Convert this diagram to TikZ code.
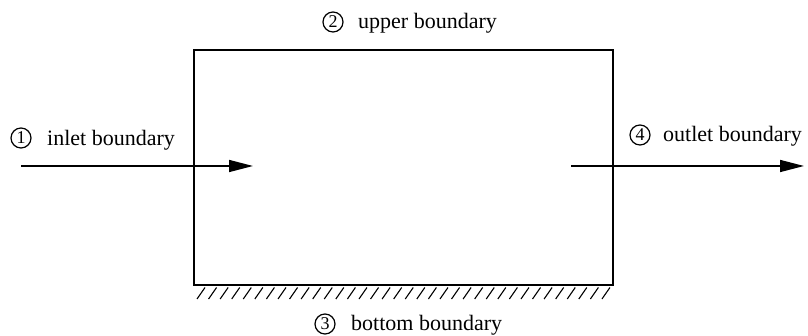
\documentclass[tikz,border=0pt]{standalone}
\usepackage{fontspec}
\setmainfont{Liberation Serif}
\usetikzlibrary{arrows.meta}
\begin{document}
\begin{tikzpicture}[x=1pt,y=1pt,
  regionbox/.style={draw, line width=1.8pt, minimum width=419pt, minimum height=235pt, inner sep=0pt},
  flow/.style={line width=1.5pt, -{Triangle[length=24pt,width=12pt]}},
  hatch/.style={line width=1.1pt},
  numcirc/.style={circle, draw, line width=1.2pt, minimum size=20pt, inner sep=0pt, font=\fontsize{18}{18}\selectfont},
  lbl/.style={anchor=west, inner sep=0pt, font=\fontsize{22}{24}\selectfont}
]
\useasboundingbox (0,0) rectangle (808,336);

% computational domain
\node[regionbox] (box) at (403.5,168.5) {};

% wall hatching under the bottom boundary
\foreach \i in {0,...,35}{
  \draw[hatch] (197+11.57*\i,37) -- (205+11.57*\i,48.5);
}

% inflow and outflow arrows
\coordinate (inA) at (21,170);
\coordinate (inB) at (253,170);
\coordinate (outA) at (571,170);
\coordinate (outB) at (804,170);
\draw[flow] (inA) -- (inB);
\draw[flow] (outA) -- (outB);

% boundary labels
\node[numcirc] (c1) at (21,198) {1};
\node[lbl] (t1) at (47,196) {inlet boundary};
\node[numcirc] (c2) at (333,314) {2};
\node[lbl] (t2) at (358,313) {upper boundary};
\node[numcirc] (c3) at (325,12) {3};
\node[lbl] (t3) at (351,11) {bottom boundary};
\node[numcirc] (c4) at (640,201) {4};
\node[lbl] (t4) at (663,200) {outlet boundary};
\end{tikzpicture}
\end{document}
